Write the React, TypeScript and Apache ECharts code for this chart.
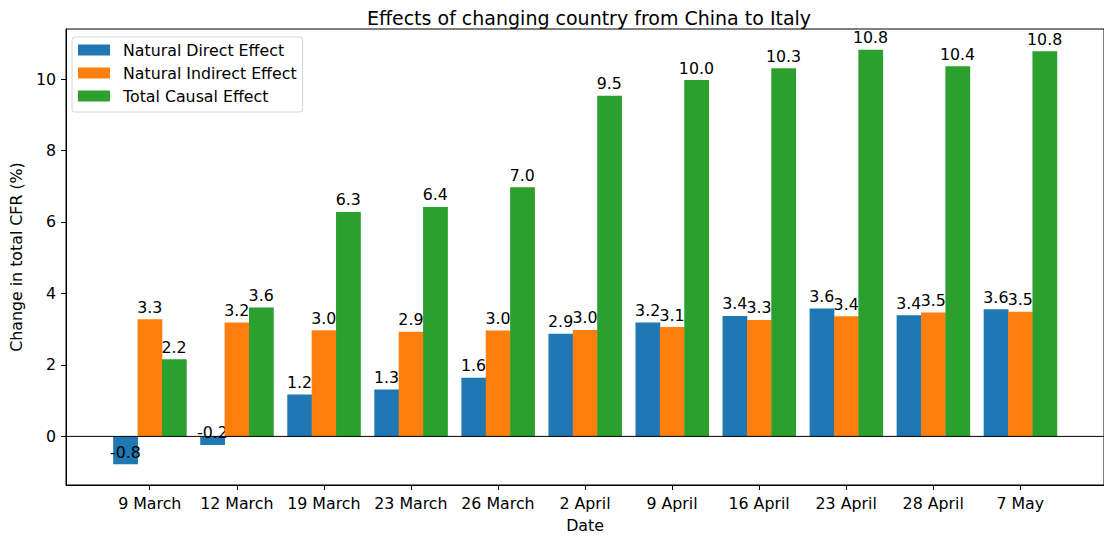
import React, { useEffect, useRef } from "react";
import * as echarts from "echarts";

const categories = ["9 March", "12 March", "19 March", "23 March", "26 March", "2 April", "9 April", "16 April", "23 April", "28 April", "7 May"];
const seriesNames = ["Natural Direct Effect", "Natural Indirect Effect", "Total Causal Effect"];
const nde = [-0.78, -0.24, 1.17, 1.31, 1.64, 2.87, 3.19, 3.37, 3.58, 3.39, 3.56];
const nie = [3.28, 3.19, 2.97, 2.93, 2.96, 2.98, 3.06, 3.26, 3.36, 3.47, 3.49];
const tce = [2.16, 3.61, 6.28, 6.42, 6.97, 9.53, 9.97, 10.3, 10.82, 10.36, 10.78];
const yTicks = [0, 2, 4, 6, 8, 10];
const colors = ["#1f77b4", "#ff7f0e", "#2ca02c"];

const BAR_W = 0.28;
const X_MIN = -0.962;
const X_MAX = 10.962;
const FONT = "DejaVu Sans";
const FS = 15.8;

export default function App() {
  const ref = useRef<HTMLDivElement>(null);
  useEffect(() => {
    const chart = echarts.init(ref.current!, null, { renderer: "svg" });
    const all = [nde, nie, tce];
    const makeSeries = (vals: number[], k: number) => {
      const offset = (k - 1) * BAR_W;
      const color = colors[k];
      return {
        name: seriesNames[k],
        type: "custom",
        itemStyle: { color },
        clip: false,
        z: 2 + k,
        data: vals.map((v, i) => [i, v]),
        renderItem: (params: any, api: any) => {
          const idx = api.value(0) as number;
          const v = api.value(1) as number;
          const xc = idx + offset;
          const p1 = api.coord([xc - BAR_W / 2, v]);
          const p2 = api.coord([xc + BAR_W / 2, 0]);
          const y1 = Math.min(p1[1], p2[1]);
          const y2 = Math.max(p1[1], p2[1]);
          return {
            type: "group",
            children: [
              {
                type: "rect",
                shape: { x: p1[0], y: y1, width: p2[0] - p1[0] + 0.4, height: y2 - y1 },
                style: { fill: color, stroke: "none", lineWidth: 0 },
              },
              {
                type: "text",
                z2: 10,
                style: {
                  text: v.toFixed(1),
                  x: (p1[0] + p2[0]) / 2,
                  y: p1[1] - 4,
                  align: "center",
                  verticalAlign: "bottom",
                  textAlign: "center",
                  textVerticalAlign: "bottom",
                  fontSize: FS,
                  fontFamily: FONT,
                  fill: "#000",
                  stroke: "none",
                  lineWidth: 0,
                },
              },
            ],
          };
        },
      };
    };
    chart.setOption({
      animation: false,
      textStyle: { fontFamily: FONT },
      title: {
        text: "Effects of changing country from China to Italy",
        left: 584,
        textAlign: "center",
        top: 3,
        textStyle: { fontSize: 19, fontWeight: "normal", color: "#000", fontFamily: FONT },
      },
      legend: {
        data: seriesNames,
        orient: "vertical",
        left: 72,
        top: 37,
        icon: "rect",
        itemWidth: 32,
        itemHeight: 11,
        itemGap: 5,
        padding: [4, 6, 7, 6],
        borderColor: "#d6d6d6",
        borderWidth: 1,
        borderRadius: 3,
        backgroundColor: "#ffffff",
        textStyle: { fontSize: FS, color: "#000", fontFamily: FONT, lineHeight: 18, padding: [0, 0, 0, 8] },
      },
      grid: {
        left: 64,
        right: -9,
        top: 29,
        bottom: 49.5,
        show: true,
        borderColor: "#000",
        borderWidth: 1,
        backgroundColor: "transparent",
      },
      xAxis: {
        type: "value",
        min: X_MIN,
        max: X_MAX,
        name: "Date",
        nameLocation: "middle",
        nameGap: 32,
        nameTextStyle: { fontSize: FS, color: "#000", fontFamily: FONT },
        axisLine: { show: true, onZero: false, lineStyle: { color: "#000", width: 1 } },
        axisTick: { show: true, customValues: categories.map((_, i) => i), length: 5, lineStyle: { color: "#000" } },
        axisLabel: {
          customValues: categories.map((_, i) => i),
          formatter: (v: number) => categories[Math.round(v)],
          fontSize: FS,
          color: "#000",
          margin: 10,
          fontFamily: FONT,
        },
        splitLine: { show: false },
      },
      yAxis: {
        type: "value",
        min: -1.36,
        max: 11.4,
        name: "Change in total CFR (%)",
        nameLocation: "middle",
        nameRotate: 90,
        nameGap: 42,
        nameTextStyle: { fontSize: FS, color: "#000", fontFamily: FONT },
        axisLine: { show: true, onZero: false, lineStyle: { color: "#000", width: 1 } },
        axisTick: { show: true, customValues: yTicks, length: 5, lineStyle: { color: "#000" } },
        axisLabel: { customValues: yTicks, fontSize: FS, color: "#000", margin: 10, fontFamily: FONT },
        splitLine: { show: false },
      },
      series: [
        ...all.map((vals, k) => makeSeries(vals, k)),
        {
          name: "zero",
          type: "line",
          data: [[X_MIN, 0], [X_MAX, 0]],
          symbol: "none",
          silent: true,
          z: 6,
          lineStyle: { color: "#000", width: 1 },
        },
      ],
    });
    return () => chart.dispose();
  }, []);
  return <div ref={ref} style={{ position: "absolute", left: 0, top: 0, width: 1104, height: 538 }} />;
}
